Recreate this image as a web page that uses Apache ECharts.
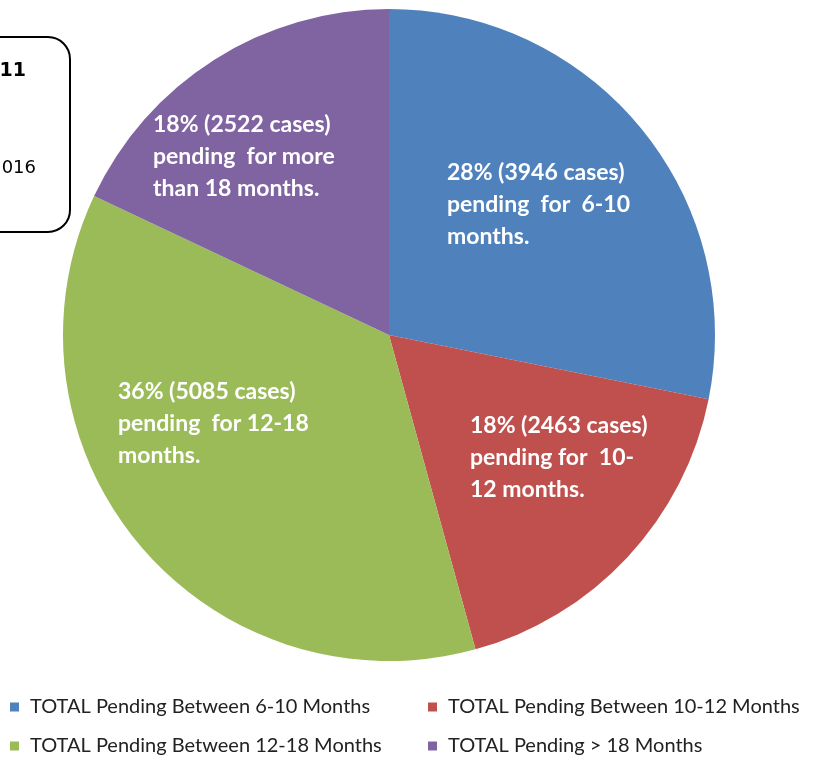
<!DOCTYPE html>
<html>
<head>
<meta charset="utf-8">
<script src="https://cdn.jsdelivr.net/npm/echarts@6/dist/echarts.min.js"></script>
<style>
  html, body { margin: 0; padding: 0; background: #fff; }
  #chart { width: 820px; height: 760px; }
</style>
</head>
<body>
<div id="chart"></div>
<script>
// data
const categories = [
  "TOTAL Pending Between 6-10 Months",
  "TOTAL Pending Between 10-12 Months",
  "TOTAL Pending Between 12-18 Months",
  "TOTAL Pending > 18 Months",
];
const cases = [3946, 2463, 5085, 2522];
const labelTail = [
  "pending  for  6-10\nmonths.",
  "pending for  10-\n12 months.",
  "pending  for 12-18\nmonths.",
  "pending  for more\nthan 18 months.",
];
const colors = ["#4f81bd", "#c0504d", "#9bbb59", "#8064a2"];

// where each slice label starts (top-left of text block)
const labelPos = [[447, 157], [470, 410], [118, 376], [153, 109]];

const chart = echarts.init(document.getElementById("chart"));

const legendBase = {
  orient: "vertical",
  top: 697,
  height: 63,
  padding: 0,
  itemWidth: 9,
  itemHeight: 9,
  itemGap: 19,
  icon: "rect",
  textStyle: { fontFamily: "Lato", fontSize: 20, color: "#222", padding: [0, 0, 0, 6] },
};

const option = {
  animation: false,
  backgroundColor: "#fff",
  color: colors,
  legend: [
    Object.assign({}, legendBase, { left: 10, data: [categories[0], categories[2]] }),
    Object.assign({}, legendBase, { left: 428, data: [categories[1], categories[3]] }),
  ],
  graphic: [
    {
      type: "rect",
      shape: { x: -40, y: 37, width: 110, height: 195, r: 22 },
      style: { fill: "none", stroke: "#000", lineWidth: 2 },
    },
    {
      type: "text",
      x: 26, y: 71,
      style: { text: "11", fontFamily: "DejaVu Sans", fontWeight: "bold", fontSize: 19, fill: "#000", align: "right", verticalAlign: "middle" },
    },
    {
      type: "text",
      x: 36, y: 168,
      style: { text: "2016", fontFamily: "DejaVu Sans", fontSize: 18, fill: "#000", align: "right", verticalAlign: "middle" },
    },
  ],
  series: [
    {
      type: "pie",
      center: [389, 335],
      radius: 326,
      startAngle: 90,
      clockwise: true,
      silent: true,
      itemStyle: { borderWidth: 0 },
      label: {
        show: true,
        position: "inside",
        fontFamily: "Lato",
        fontWeight: "bold",
        fontSize: 23,
        lineHeight: 32,
        color: "#fff",
        align: "left",
        formatter: (p) => Math.round(p.percent) + "% (" + p.value + " cases)\n" + labelTail[p.dataIndex],
      },
      labelLine: { show: false },
      labelLayout: (p) => ({
        x: labelPos[p.dataIndex][0],
        y: labelPos[p.dataIndex][1],
        align: "left",
        verticalAlign: "top",
      }),
      data: categories.map((name, i) => ({ name: name, value: cases[i] })),
    },
  ],
};

chart.setOption(option);
</script>
</body>
</html>
